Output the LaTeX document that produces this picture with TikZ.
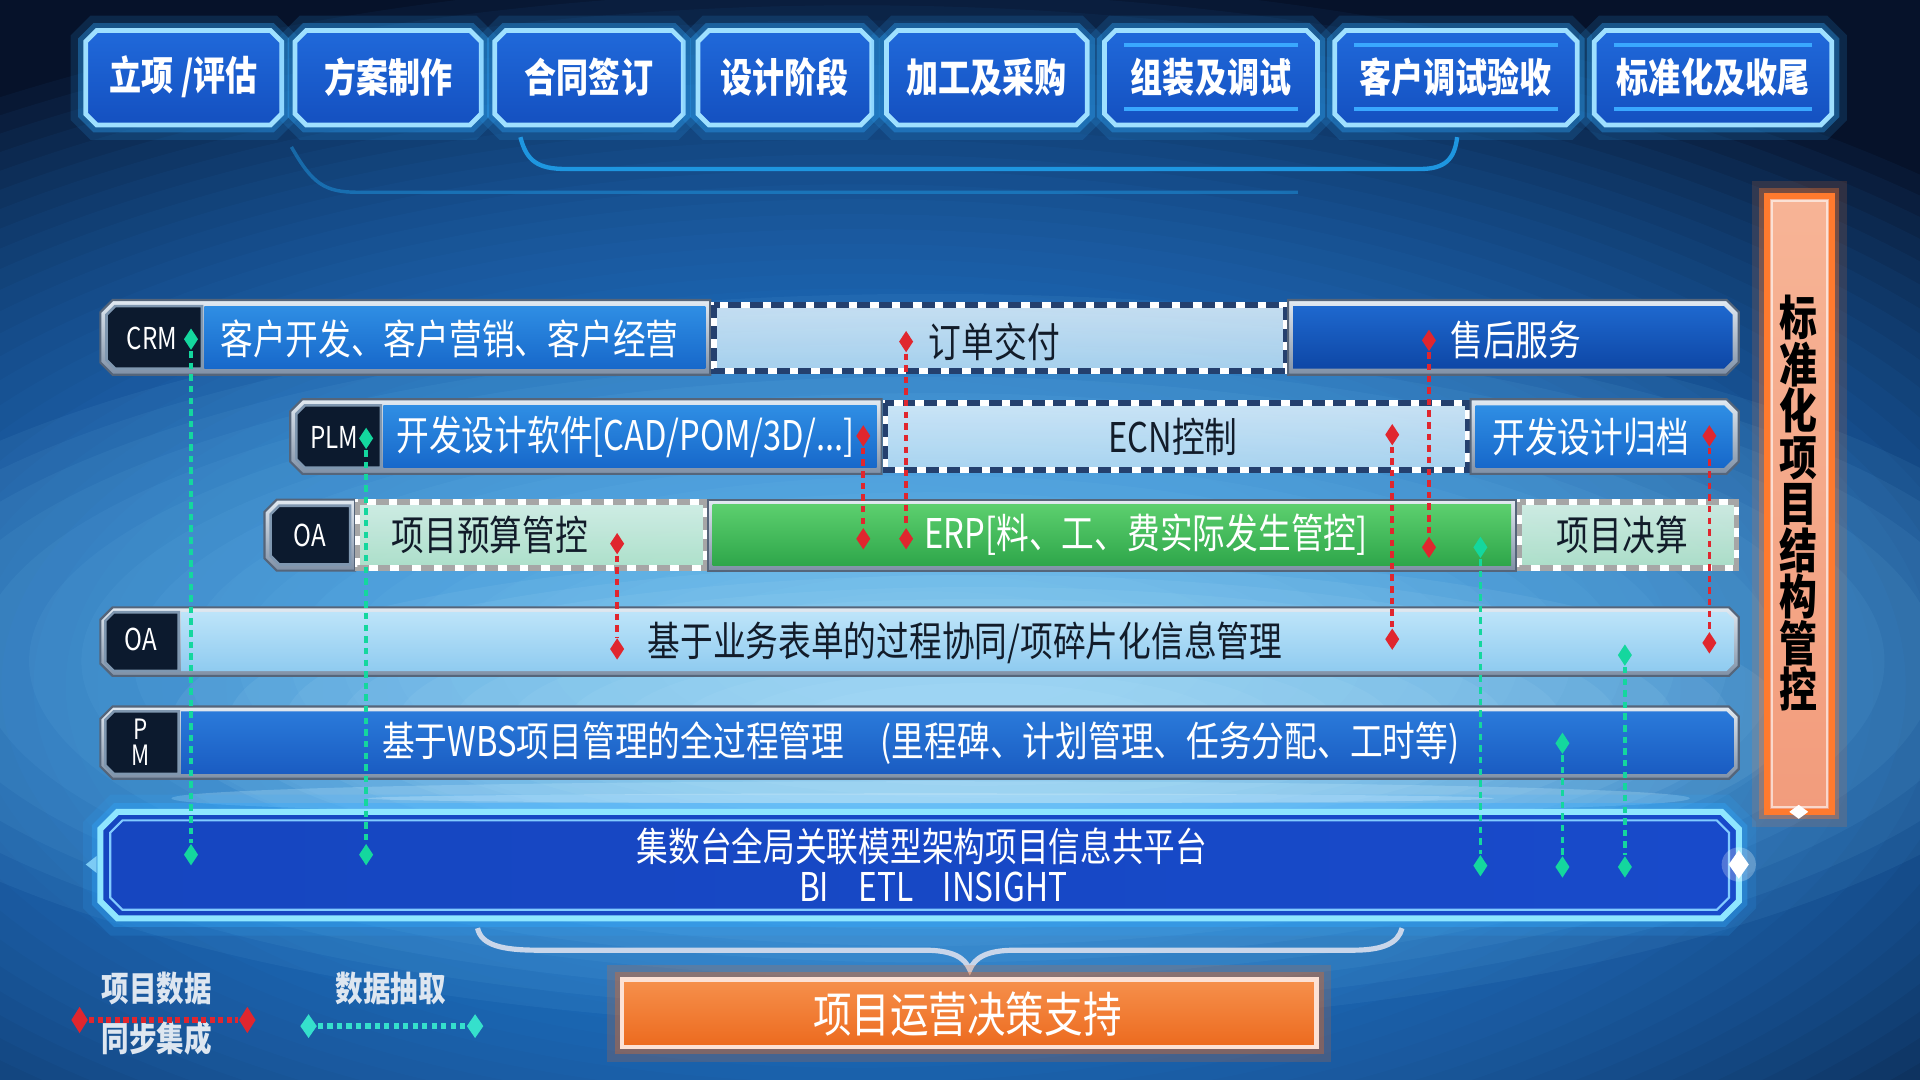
\documentclass[tikz,border=0pt]{standalone}
\usepackage{fontspec}
\setmainfont{Noto Sans CJK SC}[FakeStretch=0.8]
\usetikzlibrary{shapes.geometric}
\definecolor{bgdark}{HTML}{06122A}
\definecolor{gA}{HTML}{C6EEFF}
\definecolor{gB}{HTML}{7CCBF5}
\definecolor{gC}{HTML}{2A86E0}
\definecolor{gD}{HTML}{1A55A8}
\definecolor{topA}{HTML}{2069DA}
\definecolor{topB}{HTML}{1450C0}
\definecolor{topEdge}{HTML}{9FE0FF}
\definecolor{topLine}{HTML}{3AA8FF}
\definecolor{glowc}{HTML}{2FA8FF}
\definecolor{silverA}{HTML}{E2EAF2}
\definecolor{silverB}{HTML}{7F90A6}
\definecolor{silverD}{HTML}{55657A}
\definecolor{labelc}{HTML}{0C1A2E}
\definecolor{labeld}{HTML}{7F97B0}
\definecolor{blueA}{HTML}{2F8EE4}
\definecolor{blueB}{HTML}{1768CA}
\definecolor{dblueA}{HTML}{1E68CE}
\definecolor{dblueB}{HTML}{0E47A6}
\definecolor{lightA}{HTML}{E2F3FD}
\definecolor{lightB}{HTML}{B8DDF4}
\definecolor{dashc}{HTML}{24406E}
\definecolor{lgreenA}{HTML}{DDF5E6}
\definecolor{lgreenB}{HTML}{B6E6C8}
\definecolor{greenA}{HTML}{5CCF6E}
\definecolor{greenB}{HTML}{2EA64A}
\definecolor{rowfA}{HTML}{BDE4F9}
\definecolor{rowfB}{HTML}{8FCBF0}
\definecolor{pmA}{HTML}{2A7ADA}
\definecolor{pmB}{HTML}{1A5CC2}
\definecolor{platL}{HTML}{1646C0}
\definecolor{platM}{HTML}{2A70EA}
\definecolor{platR}{HTML}{184ACA}
\definecolor{platEdge}{HTML}{8FE6FF}
\definecolor{orA}{HTML}{F7B496}
\definecolor{orB}{HTML}{F29C7C}
\definecolor{orEdge}{HTML}{FF7A2E}
\definecolor{btnA}{HTML}{F6904C}
\definecolor{btnB}{HTML}{EC6A1E}
\definecolor{gdc}{HTML}{14D79E}
\definecolor{rdc}{HTML}{E0262E}
\definecolor{legcyan}{HTML}{35E0CC}
\definecolor{textdark}{HTML}{121C2A}
\definecolor{braceC}{HTML}{C9D6EA}
\definecolor{curveC}{HTML}{1E96E0}
\definecolor{legtext}{HTML}{DDE6F0}
\newcommand\chbox[7]{\path[#7] ({#1+#5},#2) -- ({#3-#6},#2) -- (#3,{#2+#6}) -- (#3,{#4-#6}) -- ({#3-#6},#4) -- ({#1+#5},#4) -- (#1,{#4-#5}) -- (#1,{#2+#5}) -- cycle;}
\newcommand\topbox[5]{%
  \chbox{#2}{25}{#3}{102}{9}{9}{draw=glowc, line width=7pt, opacity=0.15}
  \chbox{#2}{25}{#3}{102}{9}{9}{draw=glowc, line width=3.5pt, opacity=0.35}
  \chbox{#2}{25}{#3}{102}{9}{9}{shade, top color=topA, bottom color=topB, draw=topEdge, line width=1.1pt}
  \node[toptext] (#1) at ({(#2+#3)/2},63) {#4};
  \ifnum#5=1 \draw[topline] ({#2+16},37) -- ({#3-16},37); \draw[topline] ({#2+16},89) -- ({#3-16},89);\fi
}
\begin{document}
\begin{tikzpicture}[x=0.01cm,y=-0.01cm,
  toptext/.style={text=white, font=\fontsize{9.3}{10}\selectfont\bfseries, inner sep=0pt},
  topline/.style={draw=topLine, line width=0.9pt},
  lbl/.style={text=white, font=\fontsize{7}{7}\selectfont, inner sep=0pt, align=center},
  wtext/.style={text=white, font=\fontsize{9.5}{11}\selectfont, inner sep=0pt},
  dtext/.style={text=textdark, font=\fontsize{9.5}{11}\selectfont, inner sep=0pt},
  silverframe/.style={shade, top color=silverA, bottom color=silverB, draw=silverD, line width=0.5pt},
  lblbox/.style={fill=labelc, draw=labeld, line width=0.6pt},
  dashbox/.style={draw=white, line width=1.3pt},
  dashover/.style={draw=dashc, line width=1.3pt, dash pattern=on 3pt off 2pt},
  gdia/.style={diamond, fill=gdc, draw=none, inner sep=0pt, minimum width=0.12cm, minimum height=0.18cm},
  rdia/.style={diamond, fill=rdc, draw=none, inner sep=0pt, minimum width=0.12cm, minimum height=0.18cm},
  gline/.style={draw=gdc, line width=0.85pt, dash pattern=on 1.5pt off 1.2pt},
  rline/.style={draw=rdc, line width=0.85pt, dash pattern=on 1.5pt off 1.2pt},
  legtxt/.style={text=legtext, font=\fontsize{8}{8}\selectfont\bfseries, inner sep=0pt}
]
\useasboundingbox (0,0) rectangle (1568,882);
% background
\fill[bgdark] (0,0) rectangle (1568,882);
\begin{scope}
  \clip (0,0) rectangle (1568,882);
  \foreach \k in {0,...,39} {
    \pgfmathsetmacro\fr{1-0.021*\k}
    \fill[gC, opacity=0.06] (700,560) ellipse ({1250*\fr} and {580*\fr});
  }
  \foreach \k in {0,...,19} {
    \pgfmathsetmacro\fr{1-0.045*\k}
    \fill[gB, opacity=0.075] (760,540) ellipse ({950*\fr} and {300*\fr});
  }
  \foreach \k in {0,...,11} {
    \pgfmathsetmacro\fr{1-0.07*\k}
    \fill[gA, opacity=0.08] (800,590) ellipse ({660*\fr} and {140*\fr});
  }
  \fill[white, opacity=0.3] (760,652) ellipse (460 and 4);
  \fill[gA, opacity=0.25] (760,652) ellipse (620 and 14);
\end{scope}
% curves under the stage boxes
\draw[curveC, line width=1pt] (425,112) .. controls (430,132) and (440,138) .. (462,138) -- (1160,138) .. controls (1180,138) and (1188,130) .. (1190,112);
\draw[curveC, line width=0.8pt, opacity=0.5] (238,120) .. controls (255,150) and (265,157) .. (292,157) -- (1060,157);
% stage boxes
\topbox{s1}{70}{230}{立项 /评估}{0}
\topbox{s2}{241}{393}{方案制作}{0}
\topbox{s3}{404}{558}{合同签订}{0}
\topbox{s4}{570}{712}{设计阶段}{0}
\topbox{s5}{724}{888}{加工及采购}{0}
\topbox{s6}{902}{1076}{组装及调试}{1}
\topbox{s7}{1090}{1288}{客户调试验收}{1}
\topbox{s8}{1302}{1496}{标准化及收尾}{1}
% vertical orange bar
\path[draw=orEdge, line width=7pt, opacity=0.15] (1443,160) rectangle (1496,663);
\path[draw=orEdge, line width=3.5pt, opacity=0.35] (1443,160) rectangle (1496,663);
\path[shade, top color=orA, bottom color=orB, draw=orEdge, line width=1.3pt] (1443,160) rectangle (1496,663);
\draw[white, opacity=0.6, line width=0.5pt] (1447,164) rectangle (1492,659);
\node[text=black, font=\fontsize{11}{10.8}\selectfont\bfseries, align=center, inner sep=0pt] (std) at (1469,411) {标\\准\\化\\项\\目\\结\\构\\管\\控};
\node[diamond, fill=white, inner sep=0pt, minimum width=0.16cm, minimum height=0.12cm] (stdd) at (1469,663) {};
% ---- row 1 (CRM)
\chbox{82}{245}{580}{306}{10}{0}{silverframe}
\chbox{87}{250}{165}{301}{7}{0}{lblbox}
\path[shade, top color=blueA, bottom color=blueB] (167,250) rectangle (576,301);
\path[shade, top color=lightA, bottom color=lightB, opacity=0.85] (583,249) rectangle (1050,303);
\draw[dashbox] (583,249) rectangle (1050,303);
\draw[dashover] (583,249) rectangle (1050,303);
\chbox{1052}{245}{1420}{306}{0}{10}{silverframe}
\chbox{1056}{250}{1415}{301}{0}{7}{shade, top color=dblueA, bottom color=dblueB}
\node[lbl] (crm) at (124,276) {CRM};
\node[wtext] (crm1) at (367,277) {客户开发、客户营销、客户经营};
\node[dtext] (crm2) at (812,279) {订单交付};
\node[wtext] (crm3) at (1238,278) {售后服务};
% ---- row 2 (PLM)
\chbox{237}{326}{720}{387}{10}{0}{silverframe}
\chbox{242}{331}{311}{382}{7}{0}{lblbox}
\path[shade, top color=blueA, bottom color=blueB] (313,331) rectangle (716,382);
\path[shade, top color=lightA, bottom color=lightB, opacity=0.85] (723,329) rectangle (1199,384);
\draw[dashbox] (723,329) rectangle (1199,384);
\draw[dashover] (723,329) rectangle (1199,384);
\chbox{1201}{326}{1420}{387}{0}{10}{silverframe}
\chbox{1205}{331}{1415}{382}{0}{7}{shade, top color=blueA, bottom color=blueB}
\node[lbl] (plm) at (273,357) {PLM};
\node[wtext] (plm1) at (511,357) {开发设计软件[CAD/POM/3D/...]};
\node[dtext] (plm2) at (958,357) {ECN控制};
\node[wtext] (plm3) at (1299,357) {开发设计归档};
% ---- row 3 (OA)
\chbox{216}{408}{290}{466}{10}{0}{silverframe}
\chbox{221}{413}{286}{461}{7}{0}{lblbox}
\path[shade, top color=lgreenA, bottom color=lgreenB, opacity=0.9] (292,410) rectangle (576,464);
\draw[dashbox] (292,410) rectangle (576,464);
\draw[draw=gray!70, line width=1.3pt, dash pattern=on 3pt off 2pt] (292,410) rectangle (576,464);
\path[silverframe] (578,408) rectangle (1238,466);
\path[shade, top color=greenA, bottom color=greenB] (582,412) rectangle (1234,462);
\path[shade, top color=lgreenA, bottom color=lgreenB, opacity=0.9] (1241,410) rectangle (1418,464);
\draw[dashbox] (1241,410) rectangle (1418,464);
\draw[draw=gray!70, line width=1.3pt, dash pattern=on 3pt off 2pt] (1241,410) rectangle (1418,464);
\node[lbl] (oa1) at (253,437) {OA};
\node[dtext] (oa11) at (400,437) {项目预算管控};
\node[wtext] (oa12) at (936,437) {ERP[料、工、费实际发生管控]};
\node[dtext] (oa13) at (1325,437) {项目决算};
% ---- row 4 (OA)
\chbox{82}{496}{1420}{552}{10}{8}{silverframe}
\chbox{86}{500}{146}{548}{7}{0}{lblbox}
\chbox{148}{500}{1416}{548}{0}{6}{shade, top color=rowfA, bottom color=rowfB}
\node[lbl] (oa2) at (115,522) {OA};
\node[dtext] (oa21) at (788,525) {基于业务表单的过程协同/项碎片化信息管理};
% ---- row 5 (PM)
\chbox{82}{577}{1420}{636}{10}{8}{silverframe}
\chbox{86}{581}{146}{632}{7}{0}{lblbox}
\chbox{148}{581}{1416}{632}{0}{6}{shade, top color=pmA, bottom color=pmB}
\node[lbl, font=\fontsize{6.5}{6}\selectfont] (pm) at (115,606) {P\\M};
\node[wtext] (pm1) at (752,607) {基于WBS项目管理的全过程管理\hspace{3mm}(里程碑、计划管理、任务分配、工时等)};
% ---- platform
\chbox{82}{663}{1420}{750}{14}{14}{draw=glowc, line width=8pt, opacity=0.15}
\chbox{82}{663}{1420}{750}{14}{14}{draw=glowc, line width=4pt, opacity=0.35}
\chbox{82}{663}{1420}{750}{14}{14}{shade, left color=platL, middle color=platM, right color=platR, draw=platEdge, line width=1.4pt}
\chbox{90}{670}{1412}{743}{10}{10}{draw=glowc!60!white, line width=0.5pt}
\node[wtext, font=\fontsize{9.2}{10}\selectfont] (plat1) at (753,691) {集数台全局关联模型架构项目信息共平台};
\node[wtext, font=\fontsize{9.2}{10}\selectfont] (plat2) at (762,724) {BI\hspace{2.4mm}ETL\hspace{2.4mm}INSIGHT};
\fill[gB] (70,706) -- (79,699) -- (79,713) -- cycle;
\fill[white, opacity=0.25] (1420,706) circle (14);
\node[diamond, fill=white, inner sep=0pt, minimum width=0.17cm, minimum height=0.24cm] (platd) at (1420,706) {};
% ---- diamonds
\node[gdia] (g1a) at (156,277) {};
\node[gdia] (g1b) at (156,698) {};
\node[gdia] (g2a) at (299,358) {};
\node[gdia] (g2b) at (299,698) {};
\node[gdia] (g3a) at (1209,447) {};
\node[gdia] (g3b) at (1209,707) {};
\node[gdia] (g4a) at (1276,607) {};
\node[gdia] (g4b) at (1276,708) {};
\node[gdia] (g5a) at (1327,535) {};
\node[gdia] (g5b) at (1327,708) {};
\node[rdia] (r1a) at (504,444) {};
\node[rdia] (r1b) at (504,530) {};
\node[rdia] (r2a) at (705,356) {};
\node[rdia] (r2b) at (705,440) {};
\node[rdia] (r3a) at (740,279) {};
\node[rdia] (r3b) at (740,440) {};
\node[rdia] (r4a) at (1137,355) {};
\node[rdia] (r4b) at (1137,522) {};
\node[rdia] (r5a) at (1167,278) {};
\node[rdia] (r5b) at (1167,447) {};
\node[rdia] (r6a) at (1396,356) {};
\node[rdia] (r6b) at (1396,525) {};
% ---- connectors
\draw[gline] (g1a) -- (g1b);
\draw[gline] (g2a) -- (g2b);
\draw[gline] (g3a) -- (g3b);
\draw[gline] (g4a) -- (g4b);
\draw[gline] (g5a) -- (g5b);
\draw[rline] (r1a) -- (r1b);
\draw[rline] (r2a) -- (r2b);
\draw[rline] (r3a) -- (r3b);
\draw[rline] (r4a) -- (r4b);
\draw[rline] (r5a) -- (r5b);
\draw[rline] (r6a) -- (r6b);
% ---- brace
\draw[braceC, line width=1.2pt] (390,758) .. controls (393,772) and (410,776) .. (440,776) -- (755,776) .. controls (778,776) and (788,782) .. (792,792) .. controls (796,782) and (806,776) .. (829,776) -- (1105,776) .. controls (1130,776) and (1142,770) .. (1145,758);
% ---- decision button
\path[draw=btnB, line width=7pt, opacity=0.2] (508,800) rectangle (1075,855);
\path[draw=btnB, line width=3.5pt, opacity=0.35] (508,800) rectangle (1075,855);
\path[shade, top color=btnA, bottom color=btnB, draw=orA!40!white, line width=1.1pt] (508,800) rectangle (1075,855);
\node[text=white, font=\fontsize{11.2}{12}\selectfont, inner sep=0pt] (btn) at (790,828) {项目运营决策支持};
% ---- legend
\node[legtxt] (lt1) at (128,807) {项目数据};
\node[legtxt] (lt2) at (128,848) {同步集成};
\node[legtxt] (lt3) at (319,807) {数据抽取};
\node[rdia, minimum width=0.14cm, minimum height=0.22cm] (lr1) at (65,833) {};
\node[rdia, minimum width=0.14cm, minimum height=0.22cm] (lr2) at (202,833) {};
\node[diamond, fill=legcyan, inner sep=0pt, minimum width=0.14cm, minimum height=0.2cm] (lc1) at (252,838) {};
\node[diamond, fill=legcyan, inner sep=0pt, minimum width=0.14cm, minimum height=0.2cm] (lc2) at (388,838) {};
\draw[draw=rdc, line width=1.3pt, dash pattern=on 1.2pt off 0.8pt] (lr1) -- (lr2);
\draw[draw=legcyan, line width=1.3pt, dash pattern=on 1.2pt off 1pt] (lc1) -- (lc2);
\end{tikzpicture}
\end{document}
